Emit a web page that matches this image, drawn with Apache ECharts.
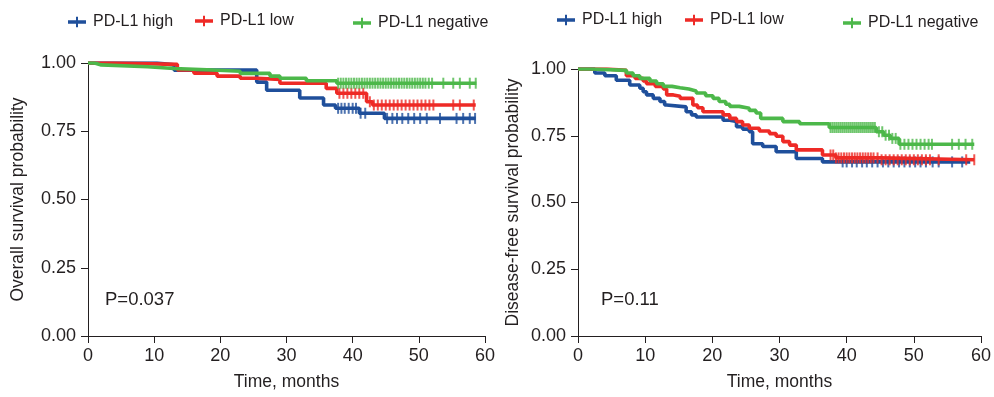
<!DOCTYPE html>
<html>
<head>
<meta charset="utf-8">
<script src="https://cdn.jsdelivr.net/npm/echarts@6/dist/echarts.min.js"></script>
<style>html,body{margin:0;padding:0;background:#fff;}#c{width:994px;height:397px;}</style>
</head>
<body>
<div id="c"></div>
<script>
// ---------- Data ----------
var seriesNames = ['PD-L1 high', 'PD-L1 low', 'PD-L1 negative'];
var xTicks = [0, 10, 20, 30, 40, 50, 60];
var yTicks = [0, 0.25, 0.5, 0.75, 1];

// Overall survival (left panel): step times / survival
var osHighT = [0, 10.4, 13.0, 25.5, 27.0, 32.0, 35.6, 37.4, 41.0, 44.8, 58.6];
var osHighS = [1.0, 0.993, 0.974, 0.93, 0.90, 0.872, 0.846, 0.834, 0.816, 0.797, 0.797];
var osHighCens = [37.8, 38.3, 38.8, 39.4, 40.0, 40.5, 41.2, 41.9, 45.2, 46.0, 46.7, 47.5, 48.4, 49.3, 50.2, 51.2, 53.2, 55.7, 56.7, 57.7, 58.5];

var osLowT = [0, 3.8, 13.5, 16.0, 19.5, 23.0, 25.5, 29.0, 36.0, 37.6, 42.1, 43.0, 58.6];
var osLowS = [1.0, 0.995, 0.975, 0.963, 0.952, 0.944, 0.94, 0.926, 0.907, 0.889, 0.858, 0.846, 0.846];
var osLowCens = [38.0, 38.6, 39.2, 39.8, 40.4, 41.0, 41.6, 42.6, 43.2, 43.8, 44.4, 45.0, 45.6, 46.2, 46.8, 47.4, 48.0, 48.6, 49.2, 49.8, 50.4, 51.0, 51.6, 52.2, 55.2, 56.2, 58.3];

var osNegT = [0, 1.0, 2.0, 9.0, 13.0, 18.0, 23.0, 27.5, 29.0, 33.0, 37.6, 58.7];
var osNegS = [1.0, 0.993, 0.986, 0.98, 0.975, 0.97, 0.962, 0.952, 0.944, 0.935, 0.926, 0.926];
var osNegCens = [37.8, 38.2, 38.6, 39.0, 39.4, 39.8, 40.2, 40.6, 41.0, 41.4, 41.8, 42.2, 42.6, 43.0, 43.4, 43.8, 44.2, 44.6, 45.0, 45.4, 45.8, 46.2, 46.6, 47.0, 47.4, 47.8, 48.2, 48.6, 49.0, 49.4, 49.8, 50.2, 50.6, 51.0, 51.5, 52.0, 53.7, 55.2, 56.2, 57.7, 58.6];

// Disease-free survival (right panel)
var dfsHighT = [0, 2.5, 4.0, 5.7, 7.7, 9.2, 9.7, 10.2, 11.2, 12.2, 12.9, 13.2, 16.1, 16.9, 17.6, 21.6, 22.6, 23.6, 24.5, 25.5, 26.0, 27.5, 29.5, 32.5, 36.4, 58.4];
var dfsHighS = [1.0, 0.985, 0.975, 0.958, 0.94, 0.928, 0.915, 0.903, 0.89, 0.878, 0.865, 0.858, 0.84, 0.828, 0.82, 0.808, 0.803, 0.784, 0.775, 0.765, 0.72, 0.71, 0.69, 0.665, 0.652, 0.652];
var dfsHighCens = [39.4, 40.0, 40.8, 41.5, 42.3, 43.0, 43.8, 44.6, 45.4, 46.2, 47.0, 47.8, 48.6, 49.4, 50.2, 51.0, 51.8, 52.8, 53.7, 55.7, 57.2];

var dfsLowT = [0, 4.3, 7.2, 8.5, 9.7, 10.2, 11.5, 12.7, 13.2, 14.2, 15.2, 17.1, 17.8, 18.6, 21.6, 22.6, 23.6, 24.5, 25.5, 27.0, 28.5, 29.5, 30.5, 31.5, 32.5, 36.4, 38.4, 45.0, 59.0];
var dfsLowS = [1.0, 0.995, 0.975, 0.965, 0.955, 0.945, 0.935, 0.925, 0.903, 0.898, 0.89, 0.865, 0.855, 0.84, 0.828, 0.815, 0.803, 0.79, 0.778, 0.768, 0.758, 0.748, 0.728, 0.715, 0.697, 0.678, 0.667, 0.66, 0.66];
var dfsLowCens = [37.6, 38.0, 38.4, 38.8, 39.2, 39.6, 40.0, 40.4, 40.8, 41.2, 41.6, 42.0, 42.4, 42.8, 43.2, 43.6, 44.0, 44.6, 45.2, 45.8, 46.4, 47.0, 47.6, 48.2, 48.8, 49.4, 50.0, 50.6, 51.2, 51.8, 52.4, 53.7, 57.8, 59.0];

var dfsNegT = [0, 2.0, 7.2, 8.2, 9.2, 10.7, 11.7, 12.7, 14.0, 15.2, 16.5, 17.6, 19.0, 20.1, 21.0, 22.0, 22.6, 24.0, 25.5, 26.5, 27.2, 30.5, 33.0, 37.4, 44.4, 45.5, 46.5, 47.8, 59.0];
var dfsNegS = [1.0, 0.995, 0.985, 0.975, 0.965, 0.955, 0.945, 0.935, 0.93, 0.925, 0.918, 0.91, 0.9, 0.89, 0.878, 0.868, 0.86, 0.853, 0.845, 0.835, 0.815, 0.803, 0.795, 0.781, 0.765, 0.752, 0.74, 0.718, 0.718];
var dfsNegCens = [37.6, 37.9, 38.2, 38.5, 38.8, 39.1, 39.4, 39.7, 40.0, 40.3, 40.6, 40.9, 41.2, 41.5, 41.8, 42.1, 42.4, 42.7, 43.0, 43.3, 43.6, 43.9, 44.2, 44.8, 45.3, 45.8, 46.3, 46.8, 47.3, 48.0, 48.6, 49.2, 49.8, 50.4, 51.0, 51.6, 52.2, 52.7, 55.7, 56.7, 57.7, 58.7];

var pLeft = 'P=0.037';
var pRight = 'P=0.11';

// ---------- Build ----------
var colors = ['#1f4f9b', '#ee2a26', '#4cb84a'];
var FONT = '"Liberation Sans", Arial, Helvetica, sans-serif';
var TXT = '#231f20';

function pairs(T, S) { return T.map(function (t, i) { return [t, S[i]]; }); }
function survAt(T, S, t) { var v = S[0]; for (var i = 0; i < T.length; i++) { if (T[i] <= t) v = S[i]; } return v; }
function cens(T, S, C) { return C.map(function (t) { return [t, survAt(T, S, t)]; }); }

var icon = 'path://M0,3.5h8v-3.5h2v3.5h8v3.5h-8v3.5h-2v-3.5h-8z';

function xAxis(gi) {
  return {
    type: 'value', gridIndex: gi, min: 0, max: 60, interval: 10,
    name: 'Time, months', nameLocation: 'middle', nameGap: 37,
    nameTextStyle: { fontSize: 17.5, color: TXT, fontFamily: FONT },
    axisLine: { show: true, lineStyle: { color: TXT, width: 1 } },
    axisTick: { show: true, length: 7, lineStyle: { color: TXT } },
    axisLabel: { fontSize: 18, color: TXT, fontFamily: FONT, margin: 11, formatter: function (v) { return xTicks.indexOf(v) >= 0 ? String(v) : ''; } },
    splitLine: { show: false }
  };
}
function yAxis(gi, name, gap) {
  return {
    type: 'value', gridIndex: gi, min: 0, max: 1, interval: 0.25,
    name: name, nameLocation: 'middle', nameGap: gap, nameRotate: 90,
    nameTextStyle: { fontSize: 17.5, color: TXT, fontFamily: FONT },
    axisLine: { show: true, lineStyle: { color: TXT, width: 1 } },
    axisTick: { show: true, length: 7, lineStyle: { color: TXT } },
    axisLabel: { fontSize: 18, color: TXT, fontFamily: FONT, margin: 12, formatter: function (v) { return yTicks.indexOf(v) >= 0 ? v.toFixed(2) : ''; } },
    splitLine: { show: false }
  };
}

var panels = [
  { T: [osHighT, osLowT, osNegT], S: [osHighS, osLowS, osNegS], C: [osHighCens, osLowCens, osNegCens] },
  { T: [dfsHighT, dfsLowT, dfsNegT], S: [dfsHighS, dfsLowS, dfsNegS], C: [dfsHighCens, dfsLowCens, dfsNegCens] }
];

var series = [];
panels.forEach(function (p, gi) {
  for (var k = 0; k < 3; k++) {
    series.push({
      type: 'line', name: seriesNames[k], xAxisIndex: gi, yAxisIndex: gi,
      step: 'end', showSymbol: false, symbol: 'none', silent: true,
      data: pairs(p.T[k], p.S[k]), z: 2 + k,
      lineStyle: { color: colors[k], width: 3.6 }, itemStyle: { color: colors[k] }
    });
    series.push({
      type: 'scatter', name: seriesNames[k], xAxisIndex: gi, yAxisIndex: gi,
      symbol: 'rect', symbolSize: [2, 11], silent: true,
      data: cens(p.T[k], p.S[k], p.C[k]), z: 2 + k,
      itemStyle: { color: colors[k] }
    });
  }
});

var legendPos = [
  { left: 68, top: 14 }, { left: 195, top: 13 }, { left: 353, top: 15 },
  { left: 557, top: 12 }, { left: 685, top: 12 }, { left: 843, top: 15 }
];
var legends = legendPos.map(function (lp, i) {
  return {
    data: [{ name: seriesNames[i % 3], icon: icon }],
    left: lp.left, top: lp.top, itemWidth: 18, itemHeight: 10.5, itemGap: 0,
    selectedMode: false, padding: 0,
    textStyle: { fontSize: 16, color: TXT, fontFamily: FONT, padding: [0, 0, 0, 2] }
  };
});

var option = {
  animation: false,
  backgroundColor: '#ffffff',
  color: colors,
  legend: legends,
  grid: [
    { left: 88, top: 63, width: 397, height: 273, containLabel: false },
    { left: 578, top: 69, width: 404, height: 267, containLabel: false }
  ],
  xAxis: [xAxis(0), xAxis(1)],
  yAxis: [yAxis(0, 'Overall survival probability', 61), yAxis(1, 'Disease-free survival probability', 56)],
  graphic: [
    { type: 'text', left: 105, top: 290, style: { text: pLeft, fontSize: 18.5, fill: TXT, fontFamily: FONT } },
    { type: 'text', left: 601, top: 290, style: { text: pRight, fontSize: 18.5, fill: TXT, fontFamily: FONT } }
  ],
  series: series
};

var chart = echarts.init(document.getElementById('c'), null, { renderer: 'canvas' });
chart.setOption(option);
</script>
</body>
</html>
